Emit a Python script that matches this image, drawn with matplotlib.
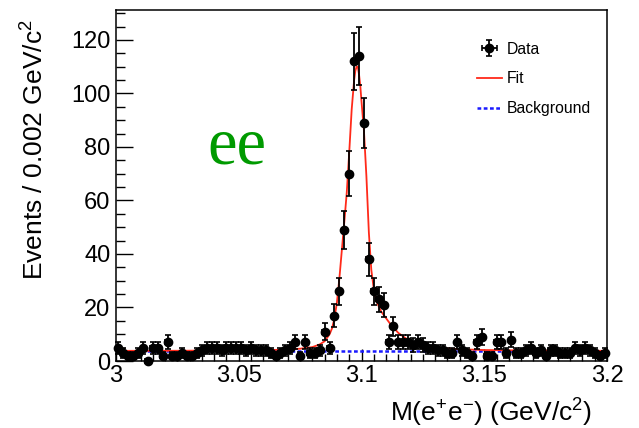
import matplotlib
matplotlib.use('Agg')
import matplotlib.pyplot as plt
import numpy as np
from matplotlib.ticker import MultipleLocator, FixedLocator

plt.rcParams['font.family'] = ['Liberation Sans', 'DejaVu Sans']
plt.rcParams['mathtext.default'] = 'regular'

# bin centres 3.001 ... 3.199 (bin width 0.002)
bin_centers = [round(3.001 + 0.002 * i, 3) for i in range(100)]
counts = [5, 3, 2, 2, 3, 5, 0, 5, 5, 2,
          7, 2, 2, 3, 2, 2, 3, 4, 5, 5,
          5, 4, 5, 5, 5, 5, 4, 5, 4, 4,
          4, 3, 2, 3, 4, 5, 7, 2, 7, 3,
          3, 4, 11, 5, 17, 26, 49, 70, 112, 114,
          89, 38, 26, 23, 21, 7, 13, 7, 7, 7,
          6, 7, 6, 5, 5, 4, 4, 3, 3, 7,
          4, 3, 2, 7, 9, 2, 2, 7, 7, 3,
          8, 3, 3, 4, 5, 3, 4, 2, 4, 4,
          3, 3, 3, 5, 4, 5, 4, 3, 2, 3]

# fit curve
fit_x = [3.000, 3.020, 3.040, 3.060, 3.070, 3.075, 3.080, 3.083, 3.085, 3.087,
         3.088, 3.089, 3.090, 3.091, 3.092, 3.093, 3.094, 3.095, 3.096, 3.097,
         3.0975, 3.098, 3.0985, 3.099, 3.0995, 3.100, 3.101, 3.102, 3.103, 3.104,
         3.105, 3.106, 3.108, 3.110, 3.112, 3.115, 3.118, 3.120, 3.125, 3.130,
         3.140, 3.150, 3.170, 3.200]
fit_y = [3.8, 3.8, 3.9, 4.0, 4.3, 4.6, 5.2, 6.2, 7.4, 10.0,
         12.2, 16.0, 22.0, 31.0, 41.5, 52.0, 63.0, 78.0, 94.0, 105.0,
         108.5, 110.0, 110.0, 107.0, 103.0, 97.0, 86.0, 69.0, 48.0, 34.0,
         27.0, 22.5, 18.5, 16.0, 13.5, 10.5, 8.5, 7.4, 5.9, 5.0,
         4.4, 4.1, 3.9, 3.8]

bkg_x = [3.0, 3.2]
bkg_y = [3.7, 3.7]

x_ticks = [3.0, 3.05, 3.1, 3.15, 3.2]
x_ticklabels = ['3', '3.05', '3.1', '3.15', '3.2']
y_ticks = [0, 20, 40, 60, 80, 100, 120]

fig = plt.figure(figsize=(6.39, 4.28), dpi=100)
ax = fig.add_axes([116/639, 67/428, 491/639, 351/428])

yerr = np.sqrt(np.array(counts, dtype=float))
h_data = ax.errorbar(bin_centers, counts, yerr=yerr, xerr=0.001, fmt='o', color='black',
                     markersize=6, elinewidth=1.3, capsize=2.5, capthick=1.2,
                     label='Data', zorder=4, clip_on=False)
h_fit, = ax.plot(fit_x, fit_y, color='#ff2a1a', lw=1.3, label='Fit', zorder=3)
h_bkg, = ax.plot(bkg_x, bkg_y, color='#1a1aff', lw=1.8, ls=(0, (1.5, 1.0)),
                 label='Background', zorder=2)

ax.set_xlim(3.0, 3.2)
ax.set_ylim(0, 131.2)
ax.xaxis.set_major_locator(FixedLocator(x_ticks))
ax.set_xticklabels(x_ticklabels)
ax.xaxis.set_minor_locator(MultipleLocator(0.005))
ax.yaxis.set_major_locator(FixedLocator(y_ticks))
ax.yaxis.set_minor_locator(MultipleLocator(5))
ax.tick_params(which='both', direction='in', top=False, right=False,
               labelsize=17, width=1.0)
ax.tick_params(axis='y', which='major', length=12, pad=4)
ax.tick_params(axis='y', which='minor', length=6.5)
ax.tick_params(axis='x', which='major', length=9, pad=3)
ax.tick_params(axis='x', which='minor', length=5)
for s in ax.spines.values():
    s.set_linewidth(1.1)

fig.text(35/639, 1 - 150/428, 'Events / 0.002 GeV/c$^{2}$', rotation=90,
         ha='center', va='center', fontsize=19)
fig.text(592/639, 1 - 413/428, 'M(e$^{+}$e$^{-}$) (GeV/c$^{2}$)',
         ha='right', va='center', fontsize=19)

ax.text(0.187, 0.564, 'ee', transform=ax.transAxes, color='#009a00',
        fontsize=48, family=['Liberation Serif', 'DejaVu Serif'],
        ha='left', va='baseline')

ax.legend([h_data, h_fit, h_bkg], ['Data', 'Fit', 'Background'],
          loc='upper left', bbox_to_anchor=(0.735, 0.91), frameon=False,
          fontsize=11.3, handlelength=1.6, handletextpad=0.3,
          borderpad=0, borderaxespad=0, labelspacing=0.95)

fig.savefig('out.png', dpi=100)
